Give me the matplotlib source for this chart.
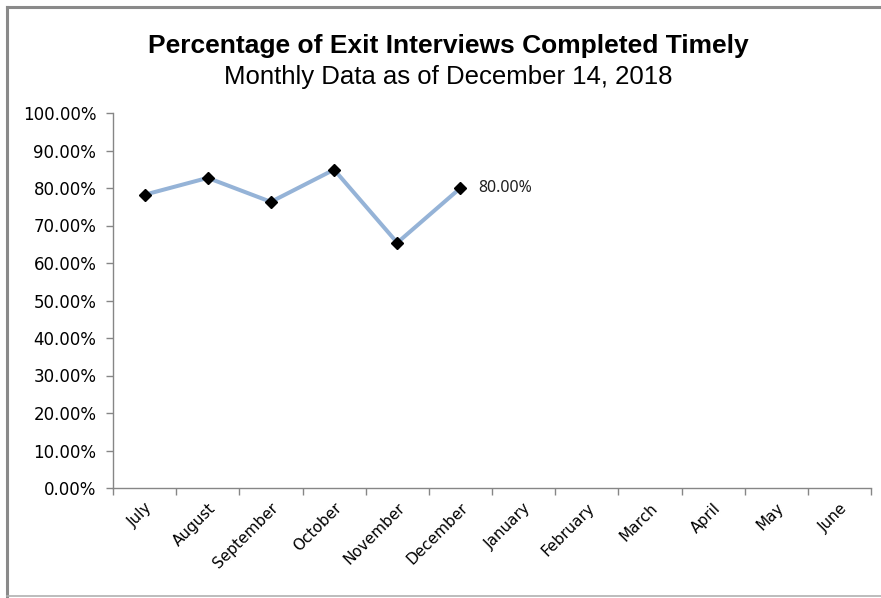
import matplotlib
matplotlib.use("Agg")
import matplotlib.pyplot as plt
from matplotlib.lines import Line2D
from matplotlib.ticker import FuncFormatter, FixedLocator

months = ["July", "August", "September", "October", "November", "December",
          "January", "February", "March", "April", "May", "June"]
pct_values = [78.2, 82.7, 76.3, 84.9, 65.4, 80.0]
y_ticks = [0, 10, 20, 30, 40, 50, 60, 70, 80, 90, 100]
title = "Percentage of Exit Interviews Completed Timely"
subtitle = "Monthly Data as of December 14, 2018"

W, H = 881, 598
fig = plt.figure(figsize=(W / 100, H / 100), dpi=100)
fig.patch.set_facecolor("white")

# outer chart border
fig.add_artist(Line2D([7 / W, 7 / W], [1 - 7 / H, 1 - 596 / H], transform=fig.transFigure,
                      color="#8a8a8a", lw=2.2))
fig.add_artist(Line2D([7 / W, 1.0], [1 - 7 / H, 1 - 7 / H], transform=fig.transFigure,
                      color="#8a8a8a", lw=2.2))
fig.add_artist(Line2D([7 / W, 1.0], [1 - 596 / H, 1 - 596 / H], transform=fig.transFigure,
                      color="#b0b0b0", lw=1.2))

left, right = 113 / W, 871 / W
bottom, top = 1 - 488 / H, 1 - 113 / H
ax = fig.add_axes([left, bottom, right - left, top - bottom])

x = list(range(len(pct_values)))
ax.plot(x, pct_values, color="#95B3D7", lw=2.9, solid_capstyle="round", zorder=2)
ax.plot(x, pct_values, linestyle="none", marker="D", markersize=6.5,
        color="black", zorder=3)

ax.annotate(f"{pct_values[-1]:.2f}%", xy=(x[-1], pct_values[-1]), xytext=(13, 0),
            textcoords="offset points", va="center", ha="left",
            fontsize=11.5, family="Noto Sans", color="#202020")

ax.set_xlim(-0.5, len(months) - 0.5)
ax.set_ylim(0, 100)

ax.yaxis.set_major_locator(FixedLocator(y_ticks))
ax.yaxis.set_major_formatter(FuncFormatter(lambda v, p: f"{v:.2f}%"))

ax.set_xticks(range(len(months)))
ax.set_xticklabels(months, rotation=45, ha="right", rotation_mode="anchor",
                   fontsize=11, family="DejaVu Sans")
ax.set_xticks([i - 0.5 for i in range(len(months) + 1)], minor=True)
ax.tick_params(axis="x", which="major", length=0, pad=9)
ax.tick_params(axis="x", which="minor", length=5, color="#868686", width=1)
ax.tick_params(axis="y", length=5, color="#868686", width=1, pad=7,
               labelsize=12)
for lab in ax.get_yticklabels():
    lab.set_family("DejaVu Sans")

for s in ["top", "right"]:
    ax.spines[s].set_visible(False)
for s in ["left", "bottom"]:
    ax.spines[s].set_color("#868686")
    ax.spines[s].set_linewidth(1)

fig.text(448 / W, 1 - 46 / H, title, ha="center", va="center",
         fontsize=19, fontweight="bold", family="Liberation Sans")
fig.text(448 / W, 1 - 77 / H, subtitle, ha="center", va="center",
         fontsize=18.5, family="Liberation Sans")

fig.savefig("out.png", dpi=100, facecolor="white")
